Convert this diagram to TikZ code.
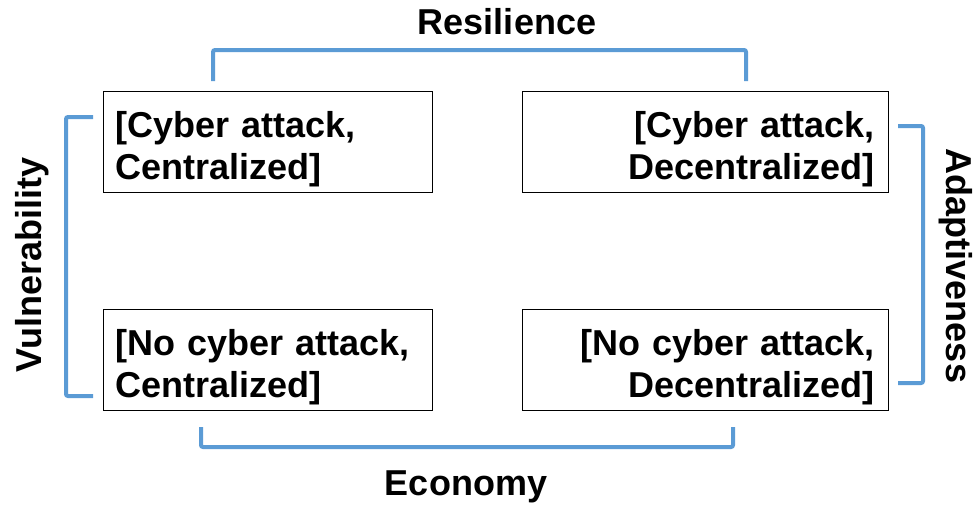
\documentclass[tikz,border=0pt]{standalone}
\usepackage{fontspec}
\setmainfont{Liberation Sans}
\definecolor{bracketblue}{HTML}{5B9BD5}
\begin{document}
\begin{tikzpicture}[x=1pt,y=-1pt,
  every node/.style={font=\fontsize{36}{41.5}\selectfont\bfseries},
  cell/.style={draw=black,line width=1.4pt,inner ysep=0pt,
    text height=46pt,text depth=55pt,anchor=north west},
  leftcell/.style={cell,align=left,inner xsep=12pt},
  rightcell/.style={cell,align=right,inner xsep=14pt},
  bracket/.style={draw=bracketblue,line width=4pt,rounded corners=2pt},
  axislabel/.style={inner sep=0pt,anchor=base}
]
\useasboundingbox (0,0) rectangle (977,506);

% the four scenario cells
\node[leftcell,text width=305pt]  (ca) at (103,91)  {[Cyber attack,\\Centralized]};
\node[rightcell,text width=338pt] (da) at (522,91)  {[Cyber attack,\\Decentralized]};
\node[leftcell,text width=305pt]  (cn) at (103,309) {[No cyber attack,\\Centralized]};
\node[rightcell,text width=338pt] (dn) at (522,309) {[No cyber attack,\\Decentralized]};

% bracket end points
\coordinate (resA) at (213,81);  \coordinate (resB) at (746,81);
\coordinate (vulA) at (93,117);  \coordinate (vulB) at (93,396);
\coordinate (adaA) at (898,126); \coordinate (adaB) at (898,383);
\coordinate (ecoA) at (201,427); \coordinate (ecoB) at (733,427);

% brackets grouping pairs of cells
\draw[bracket] (resA) -- (resA |- 0,50) -- (resB |- 0,50) -- (resB);
\draw[bracket] (vulA) -- (66,0 |- vulA) -- (66,0 |- vulB) -- (vulB);
\draw[bracket] (adaA) -- (923,0 |- adaA) -- (923,0 |- adaB) -- (adaB);
\draw[bracket] (ecoA) -- (ecoA |- 0,447) -- (ecoB |- 0,447) -- (ecoB);

% property labels
\node[axislabel] (res) at (507,34) {Resilience};
\node[axislabel] (eco) at (466,495) {Economy};
\node[axislabel,rotate=90] (vul) at (41,265) {Vulnerability};
\node[axislabel,rotate=-90] (ada) at (946,266) {Adaptiveness};
\end{tikzpicture}
\end{document}
